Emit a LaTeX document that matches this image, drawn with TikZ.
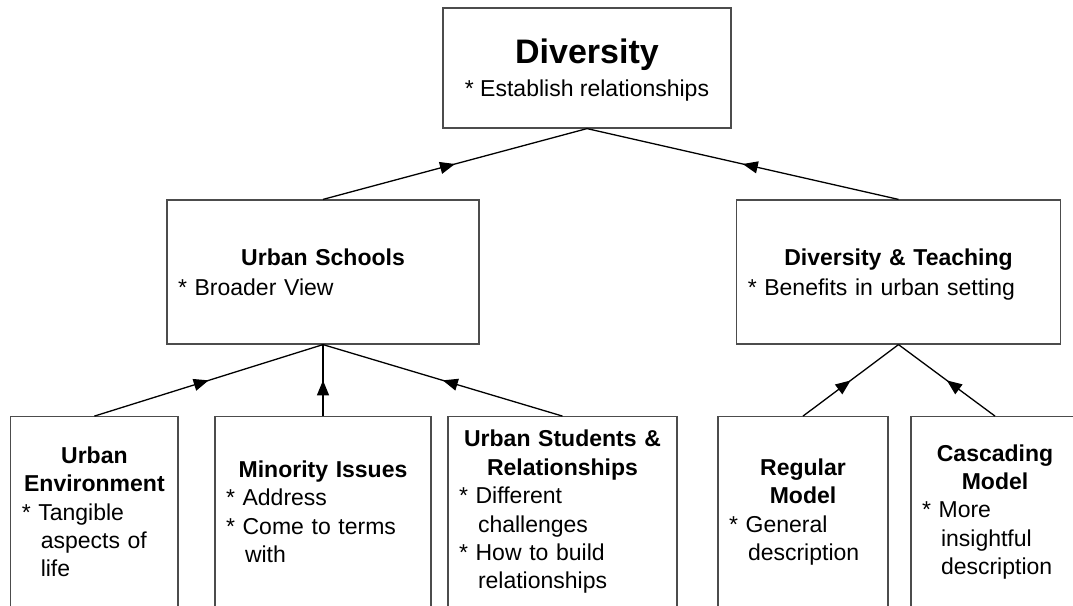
\documentclass[tikz,border=0pt]{standalone}
\usepackage{fontspec}
\setmainfont{Liberation Sans}
\usetikzlibrary{arrows.meta,decorations.markings}
\newcommand{\ind}{\hspace*{19pt}}

\begin{document}
\begin{tikzpicture}[x=1pt,y=-1pt,
  box/.style={draw=black!70,line width=1.2pt,inner sep=0pt,inner xsep=11pt,align=left,
    font=\fontsize{23}{28.4}\selectfont},
  link/.style={draw,line width=1.3pt,postaction={decorate},
    decoration={markings,mark=at position 0.5 with {\arrow{Triangle[length=15pt,width=12pt]}}}}]
  \useasboundingbox (0,0) rectangle (1073,605);
  \clip (0,0) rectangle (1073,605);

  % top
  \node[box,align=center,minimum width=288,minimum height=120,font=\fontsize{23}{33}\selectfont]
    (div) at (587,68) {{\fontsize{34}{34}\selectfont\bfseries Diversity}\\{}* Establish relationshi\smash{p}s};

  % middle row
  \node[box,text width=290,minimum height=144,font=\fontsize{23}{30}\selectfont] (schools) at (323,272)
    {{\centering\bfseries Urban Schools\par}* Broader View};
  \node[box,text width=301.5,minimum height=144,font=\fontsize{23}{30}\selectfont] (teach) at (898.5,272)
    {{\centering\bfseries Diversity \& Teaching\par}* Benefits in urban settin\smash{g}};

  % bottom row
  \node[box,text width=145.3,minimum height=190.3] (env) at (94.4,511.85)
    {{\centering\bfseries Urban\\Environment\par}* Tangible\\\ind aspects of\\\ind life};
  \node[box,text width=194,minimum height=190.3] (minor) at (323,511.85)
    {{\centering\bfseries Minority Issues\par}* Address\\{}* Come to terms\\\ind with};
  \node[box,text width=207,minimum height=190.3] (students) at (562.5,511.85)
    {{\centering\bfseries Urban Students \&\\Relationships\par}* Different\\\ind challenges\\{}* How to build\\\ind relationships};
  \node[box,text width=148,minimum height=190.3] (regular) at (803,511.85)
    {{\centering\bfseries Regular\\Model\par}* General\\\ind description};
  \node[box,text width=146,minimum height=190.3] (cascade) at (995,511.85)
    {{\centering\bfseries Cascading\\Model\par}* More\\\ind insightful\\\ind description};

  \path (schools.north) edge[link] (div.south)
        (teach.north) edge[link] (div.south)
        (env.north) edge[link] (schools.south)
        (minor.north) edge[link] (schools.south)
        (students.north) edge[link] (schools.south)
        (regular.north) edge[link] (teach.south)
        (cascade.north) edge[link] (teach.south);
\end{tikzpicture}
\end{document}
